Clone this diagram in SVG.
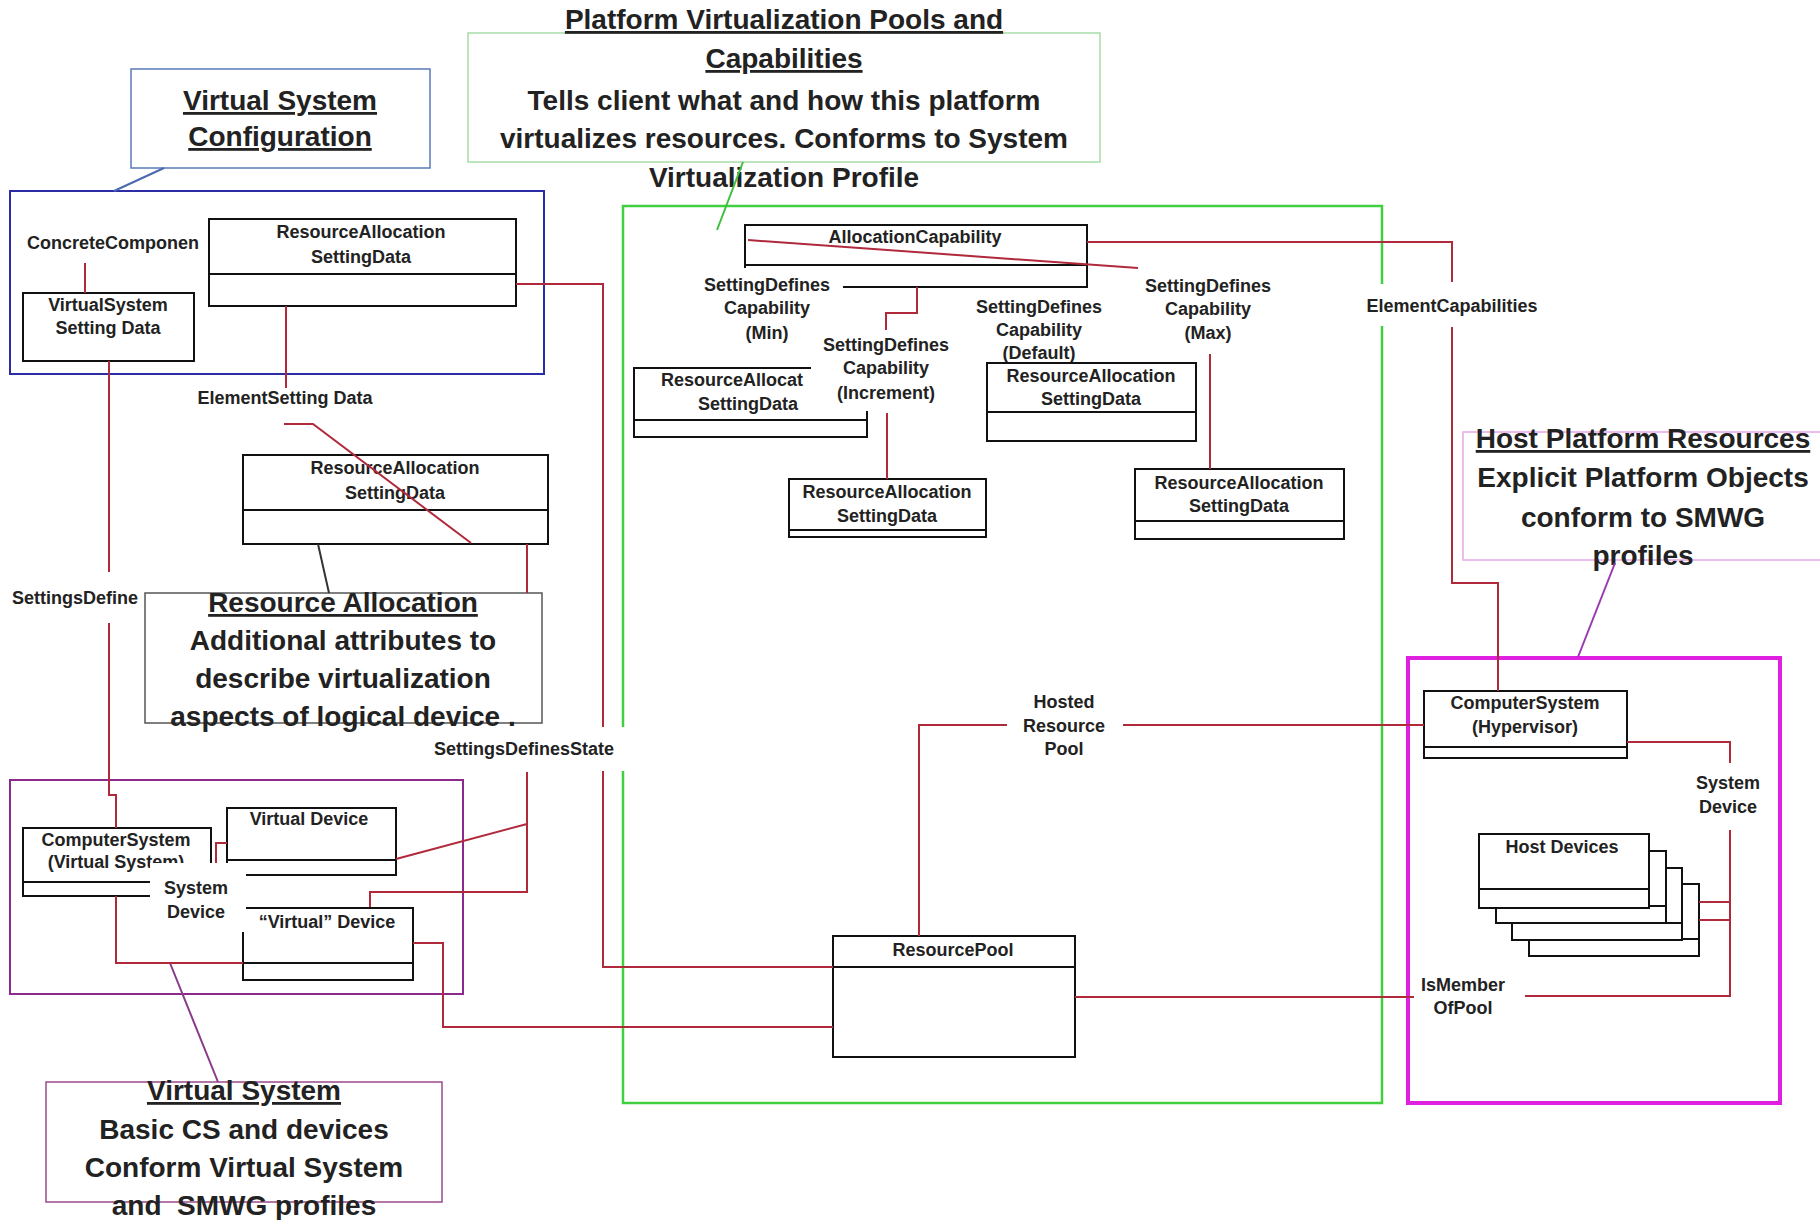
<svg xmlns="http://www.w3.org/2000/svg" width="1820" height="1220" viewBox="0 0 1820 1220">
<style>
text{font-family:"Liberation Sans",Arial,sans-serif;font-weight:bold;fill:#222}
.s{font-size:18px;text-anchor:middle}
.sl{font-size:18px;text-anchor:start}
.b{font-size:28px;text-anchor:middle}
.u{text-decoration:underline}
.cls{fill:#fff;stroke:#111;stroke-width:2}
.sep{stroke:#111;stroke-width:2}
.con{fill:none;stroke:#b02a3c;stroke-width:2}
.bg{fill:#fff;stroke:none}
</style>
<rect width="1820" height="1220" fill="#fff"/>
<g id="frames" fill="none">
<rect id="frame-config" x="10" y="191" width="534" height="183" stroke="#2c2ca6" stroke-width="2"/>
<rect id="frame-pools" x="623" y="206" width="759" height="897" stroke="#3fcf3f" stroke-width="2.5"/>
<rect id="frame-vs" x="10" y="780" width="453" height="214" stroke="#8a2a8a" stroke-width="2"/>
<rect id="frame-host" x="1408" y="658" width="372" height="445" stroke="#e020e0" stroke-width="4"/>
</g>
<g id="callout-vsc">
<rect x="131" y="69" width="299" height="99" fill="#fff" stroke="#5a7ab8" stroke-width="1.5"/>
<text class="b u" x="280" y="110">Virtual System</text>
<text class="b u" x="280" y="146">Configuration</text>
</g>
<g id="callout-pools">
<rect x="468" y="33" width="632" height="129" fill="#fff" stroke="#a8dca8" stroke-width="1.5"/>
<text class="b u" x="784" y="29">Platform Virtualization Pools and</text>
<text class="b u" x="784" y="68">Capabilities</text>
<text class="b" x="784" y="110">Tells client what and how this platform</text>
<text class="b" x="784" y="148">virtualizes resources. Conforms to System</text>
<text class="b" x="784" y="187">Virtualization Profile</text>
</g>
<g id="callout-host">
<rect x="1463" y="432" width="370" height="128" fill="#fff" stroke="#e6a8e6" stroke-width="1.5"/>
<text class="b u" x="1643" y="448">Host Platform Resources</text>
<text class="b" x="1643" y="487">Explicit Platform Objects</text>
<text class="b" x="1643" y="527">conform to SMWG</text>
<text class="b" x="1643" y="565">profiles</text>
</g>
<g id="callout-vs">
<rect x="46" y="1082" width="396" height="120" fill="#fff" stroke="#9a4a8a" stroke-width="1.5"/>
<text class="b u" x="244" y="1100">Virtual System</text>
<text class="b" x="244" y="1139">Basic CS and devices</text>
<text class="b" x="244" y="1177">Conform Virtual System</text>
<text class="b" x="244" y="1215">and&#160; SMWG profiles</text>
</g>
<g id="rasd-config">
<rect class="cls" x="209" y="219" width="307" height="87"/>
<line class="sep" x1="209" y1="274" x2="516" y2="274"/>
<text class="s" x="361" y="238">ResourceAllocation</text>
<text class="s" x="361" y="263">SettingData</text>
</g>
<g id="vssd">
<rect class="cls" x="23" y="293" width="171" height="68"/>
<text class="s" x="108" y="311">VirtualSystem</text>
<text class="s" x="108" y="334">Setting Data</text>
</g>
<g id="rasd-mid">
<rect class="cls" x="243" y="455" width="305" height="89"/>
<line class="sep" x1="243" y1="510" x2="548" y2="510"/>
<text class="s" x="395" y="474">ResourceAllocation</text>
<text class="s" x="395" y="499">SettingData</text>
</g>
<g id="alloc-cap">
<rect class="cls" x="745" y="225" width="342" height="62"/>
<line class="sep" x1="745" y1="265" x2="1087" y2="265"/>
<text class="s" x="915" y="243">AllocationCapability</text>
</g>
<g id="rasd-min">
<rect class="cls" x="634" y="368" width="233" height="69"/>
<line class="sep" x1="634" y1="420" x2="867" y2="420"/>
<text class="sl" x="661" y="386">ResourceAllocat</text>
<text class="s" x="748" y="410">SettingData</text>
</g>
<g id="rasd-inc">
<rect class="cls" x="789" y="479" width="197" height="58"/>
<line class="sep" x1="789" y1="530" x2="986" y2="530"/>
<text class="s" x="887" y="498">ResourceAllocation</text>
<text class="s" x="887" y="522">SettingData</text>
</g>
<g id="rasd-max">
<rect class="cls" x="1135" y="469" width="209" height="70"/>
<line class="sep" x1="1135" y1="521" x2="1344" y2="521"/>
<text class="s" x="1239" y="489">ResourceAllocation</text>
<text class="s" x="1239" y="512">SettingData</text>
</g>
<g id="resource-pool">
<rect class="cls" x="833" y="936" width="242" height="121"/>
<line class="sep" x1="833" y1="967" x2="1075" y2="967"/>
<text class="s" x="953" y="956">ResourcePool</text>
</g>
<g id="cs-hypervisor">
<rect class="cls" x="1424" y="691" width="203" height="67"/>
<line class="sep" x1="1424" y1="747" x2="1627" y2="747"/>
<text class="s" x="1525" y="709">ComputerSystem</text>
<text class="s" x="1525" y="733">(Hypervisor)</text>
</g>
<g id="host-devices">
<rect class="cls" x="1529" y="884" width="170" height="72"/>
<line class="sep" x1="1529" y1="939" x2="1699" y2="939"/>
<rect class="cls" x="1512" y="868" width="170" height="72"/>
<line class="sep" x1="1512" y1="923" x2="1682" y2="923"/>
<rect class="cls" x="1496" y="851" width="170" height="72"/>
<line class="sep" x1="1496" y1="906" x2="1666" y2="906"/>
<rect class="cls" x="1479" y="834" width="170" height="74"/>
<line class="sep" x1="1479" y1="889" x2="1649" y2="889"/>
<text class="s" x="1562" y="853">Host Devices</text>
</g>
<g id="cs-virtual">
<rect class="cls" x="23" y="828" width="188" height="68"/>
<line class="sep" x1="23" y1="882" x2="211" y2="882"/>
<text class="s" x="116" y="846">ComputerSystem</text>
<text class="s" x="116" y="868">(Virtual System)</text>
</g>
<g id="virtual-device">
<rect class="cls" x="227" y="808" width="169" height="67"/>
<line class="sep" x1="227" y1="860" x2="396" y2="860"/>
<text class="s" x="309" y="825">Virtual Device</text>
</g>
<g id="virtual-device-2">
<rect class="cls" x="243" y="908" width="170" height="72"/>
<line class="sep" x1="243" y1="963" x2="413" y2="963"/>
<text class="s" x="327" y="928">“Virtual” Device</text>
</g>
<g id="callout-ra">
<rect x="145" y="593" width="397" height="130" fill="#fff" stroke="#555" stroke-width="1.5"/>
</g>
<g id="connectors">
<line x1="164" y1="168" x2="114" y2="191" stroke="#4a6ab0" stroke-width="2"/>
<line x1="743" y1="162" x2="717" y2="230" stroke="#3fbf3f" stroke-width="2"/>
<line x1="318" y1="544" x2="329" y2="593" stroke="#333" stroke-width="2"/>
<line x1="170" y1="963" x2="218" y2="1082" stroke="#8a3a8a" stroke-width="2"/>
<line x1="1615" y1="563" x2="1578" y2="657" stroke="#9a3ab0" stroke-width="2"/>
<polyline class="con" points="85,263 85,293"/>
<polyline class="con" points="109,361 109,572"/>
<polyline class="con" points="109,623 109,795 116,795 116,828"/>
<polyline class="con" points="286,306 286,388"/>
<polyline class="con" points="284,424 313,424 471,543"/>
<polyline class="con" points="516,284 603,284 603,967 833,967"/>
<polyline class="con" points="527,544 527,593"/>
<polyline class="con" points="527,772 527,892 370,892 370,907"/>
<polyline class="con" points="527,824 396,859"/>
<polyline class="con" points="227,843 216,843 216,870"/>
<polyline class="con" points="116,896 116,963 243,963"/>
<polyline class="con" points="413,943 443,943 443,1027 833,1027"/>
<polyline class="con" points="748,240 1138,268"/>
<polyline class="con" points="917,287 917,313 886,313 886,330"/>
<polyline class="con" points="887,413 887,479"/>
<polyline class="con" points="1210,354 1210,469"/>
<polyline class="con" points="1087,242 1452,242 1452,282"/>
<polyline class="con" points="1452,327 1452,583 1498,583 1498,691"/>
<polyline class="con" points="919,936 919,725 1007,725"/>
<polyline class="con" points="1123,725 1424,725"/>
<polyline class="con" points="1075,997 1414,997"/>
<polyline class="con" points="1525,996 1730,996 1730,830"/>
<polyline class="con" points="1730,763 1730,742 1627,742"/>
<polyline class="con" points="1699,902 1730,902"/>
<polyline class="con" points="1699,920 1730,920"/>
</g>
<g id="connector-labels">
<text class="sl" x="27" y="249">ConcreteComponen</text>
<text class="sl" x="12" y="604">SettingsDefine</text>
<text class="s" x="285" y="404">ElementSetting Data</text>
<rect class="bg" x="428" y="727" width="205" height="44"/>
<text class="s" x="524" y="755">SettingsDefinesState</text>
<rect class="bg" x="150" y="863" width="96" height="69"/>
<text class="s" x="196" y="894">System</text>
<text class="s" x="196" y="918">Device</text>
<rect class="bg" x="697" y="268" width="146" height="80"/>
<text class="s" x="767" y="291">SettingDefines</text>
<text class="s" x="767" y="314">Capability</text>
<text class="s" x="767" y="339">(Min)</text>
<rect class="bg" x="811" y="331" width="148" height="80"/>
<text class="s" x="886" y="351">SettingDefines</text>
<text class="s" x="886" y="374">Capability</text>
<text class="s" x="886" y="399">(Increment)</text>
<text class="s" x="1039" y="313">SettingDefines</text>
<text class="s" x="1039" y="336">Capability</text>
<text class="s" x="1039" y="359">(Default)</text>
<text class="s" x="1208" y="292">SettingDefines</text>
<text class="s" x="1208" y="315">Capability</text>
<text class="s" x="1208" y="339">(Max)</text>
<rect class="bg" x="1362" y="284" width="182" height="42"/>
<text class="s" x="1452" y="312">ElementCapabilities</text>
<text class="s" x="1064" y="708">Hosted</text>
<text class="s" x="1064" y="732">Resource</text>
<text class="s" x="1064" y="755">Pool</text>
<text class="s" x="1728" y="789">System</text>
<text class="s" x="1728" y="813">Device</text>
<text class="s" x="1463" y="991">IsMember</text>
<text class="s" x="1463" y="1014">OfPool</text>
</g>
<g id="rasd-default">
<rect class="cls" x="987" y="363" width="209" height="78"/>
<line class="sep" x1="987" y1="412" x2="1196" y2="412"/>
<text class="s" x="1091" y="382">ResourceAllocation</text>
<text class="s" x="1091" y="405">SettingData</text>
</g>
<g id="callout-ra-text">
<text class="b u" x="343" y="612">Resource Allocation</text>
<text class="b" x="343" y="650">Additional attributes to</text>
<text class="b" x="343" y="688">describe virtualization</text>
<text class="b" x="343" y="726">aspects of logical device .</text>
</g>
</svg>
